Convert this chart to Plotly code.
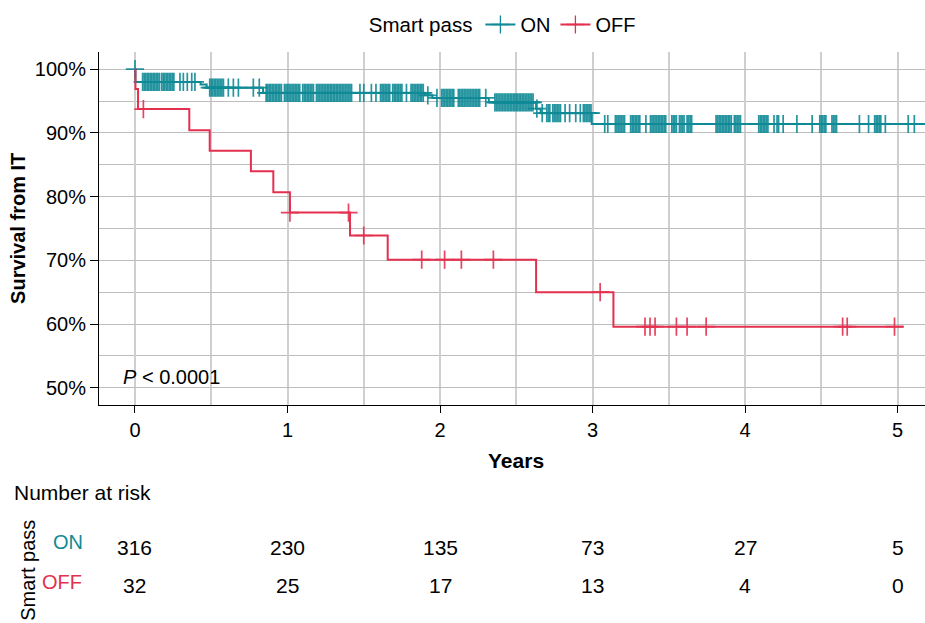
import numpy as np
import plotly.graph_objects as go

# ---------------- data ----------------
groups = ["ON", "OFF"]
legend_title = "Smart pass"

# step-function (Kaplan-Meier) change points: time (years) and survival (%)
on_times = [0.0, 0.003, 0.43, 0.47, 0.84, 1.90, 1.95, 2.32, 2.63, 2.66, 2.995]
on_surv = [100.0, 98.0, 97.6, 97.1, 96.3, 95.9, 95.5, 94.8, 93.8, 93.1, 91.4]
on_end = 5.25

off_times = [0.0, 0.003, 0.02, 0.356, 0.49, 0.76, 0.907, 1.016, 1.41, 1.657, 2.63, 3.137]
off_surv = [100.0, 96.9, 93.75, 90.4, 87.2, 84.0, 80.7, 77.5, 73.9, 70.1, 65.0, 59.6]
off_end = 5.04

# censoring times (years)
on_censor = [
    0.0,
    0.05, 0.06, 0.07, 0.08, 0.09, 0.10, 0.11, 0.12, 0.13, 0.14, 0.15, 0.16,
    0.175, 0.185, 0.195, 0.205, 0.215, 0.225, 0.235, 0.245, 0.255,
    0.295, 0.317, 0.343, 0.372, 0.393,
    0.49, 0.50, 0.51, 0.52, 0.53, 0.54, 0.55, 0.56, 0.57, 0.58,
    0.612, 0.645, 0.678, 0.776, 0.815,
    0.86, 0.87, 0.88, 0.89, 0.90, 0.91, 0.92, 0.93, 0.94, 0.95, 0.96,
    0.98, 0.99, 1.00, 1.01, 1.02, 1.03, 1.04, 1.05, 1.06, 1.07, 1.08,
    1.10, 1.11, 1.12, 1.13, 1.14, 1.15, 1.16, 1.17,
    1.19, 1.20, 1.21, 1.22, 1.23, 1.24, 1.25, 1.26, 1.27, 1.28, 1.29, 1.30,
    1.31, 1.32, 1.33, 1.34, 1.35, 1.36, 1.37, 1.38, 1.39, 1.40, 1.41, 1.42,
    1.475, 1.50, 1.55, 1.58,
    1.61, 1.62, 1.63, 1.64, 1.65, 1.66, 1.67,
    1.69, 1.70, 1.71, 1.72, 1.73, 1.74, 1.75,
    1.78,
    1.81, 1.82, 1.83, 1.84, 1.85, 1.86, 1.87, 1.88, 1.89,
    1.92, 1.98,
    2.01, 2.02, 2.03, 2.04, 2.05, 2.06, 2.07, 2.08, 2.09,
    2.12, 2.13, 2.14, 2.15, 2.16,
    2.17, 2.18, 2.19, 2.20, 2.21, 2.22, 2.23, 2.24, 2.25, 2.26,
    2.30,
    2.36, 2.37, 2.38, 2.39, 2.40, 2.41, 2.42, 2.43, 2.44, 2.45, 2.46, 2.47,
    2.48, 2.49, 2.50, 2.51, 2.52, 2.53, 2.54, 2.55, 2.56, 2.57, 2.58, 2.59,
    2.60, 2.61, 2.635,
    2.67, 2.70, 2.71, 2.72, 2.74, 2.75, 2.76, 2.77, 2.78, 2.79,
    2.82, 2.85, 2.89, 2.92,
    2.94, 2.95, 2.96, 2.97, 2.98, 2.99,
    3.08, 3.10,
    3.15, 3.16, 3.17, 3.18, 3.19, 3.20, 3.21,
    3.25, 3.26, 3.27, 3.28, 3.29, 3.30, 3.31,
    3.35,
    3.38, 3.39, 3.40, 3.41, 3.42, 3.43, 3.44, 3.45, 3.46, 3.47, 3.48,
    3.52, 3.53, 3.54, 3.55, 3.57, 3.58, 3.59, 3.60, 3.62, 3.63, 3.64, 3.65,
    3.81, 3.82, 3.83, 3.84, 3.85, 3.86, 3.87, 3.88, 3.89, 3.90, 3.91,
    3.93, 3.94, 3.95, 3.96, 3.97,
    4.09, 4.10, 4.11, 4.12, 4.13, 4.14, 4.15,
    4.19, 4.21, 4.22, 4.25, 4.34, 4.44,
    4.49, 4.50, 4.51, 4.52, 4.53,
    4.57, 4.58, 4.59, 4.60,
    4.75, 4.81,
    4.85, 4.86, 4.87, 4.88, 4.89,
    4.92, 5.07, 5.11,
]
off_censor = [0.055, 1.016, 1.40, 1.50, 1.88, 2.03, 2.14, 2.35, 3.05,
              3.344, 3.377, 3.41, 3.55, 3.62, 3.745, 4.64, 4.67, 4.98]

# number at risk table
risk_times = [0, 1, 2, 3, 4, 5]
on_risk = [316, 230, 135, 73, 27, 5]
off_risk = [32, 25, 17, 13, 4, 0]

x_ticks = [0, 1, 2, 3, 4, 5]
y_ticks = [50, 60, 70, 80, 90, 100]
y_ticktext = ["50%", "60%", "70%", "80%", "90%", "100%"]

# ---------------- styles ----------------
ON_COLOR = "#0F8A96"
OFF_COLOR = "#E4304F"
FONT = "Liberation Sans, Arial, sans-serif"
FS = 20


def surv_at(times, surv, t):
    idx = np.searchsorted(np.asarray(times), np.asarray(t), side="right") - 1
    return np.asarray(surv)[idx]


fig = go.Figure()

series = [
    ("ON", on_times, on_surv, on_end, on_censor, ON_COLOR),
    ("OFF", off_times, off_surv, off_end, off_censor, OFF_COLOR),
]

for name, tt, ss, tend, cens, col in series:
    fig.add_trace(go.Scatter(
        x=list(tt) + [tend], y=list(ss) + [ss[-1]],
        mode="lines", line=dict(color=col, width=2, shape="hv"),
        showlegend=False, hoverinfo="skip"))
    fig.add_trace(go.Scatter(
        x=cens, y=surv_at(tt, ss, cens),
        mode="markers",
        marker=dict(symbol="cross-thin", size=13, opacity=0.9,
                    line=dict(color=col, width=1.7)),
        showlegend=False, hoverinfo="skip"))

for name, tt, ss, tend, cens, col in series:
    fig.add_trace(go.Scatter(
        x=[None], y=[None], name=name, mode="lines+markers",
        line=dict(color=col, width=2),
        marker=dict(symbol="cross-thin", size=13,
                    line=dict(color=col, width=1.3))))

# ---------------- layout ----------------
fig.update_layout(
    template="none",
    width=925, height=623,
    margin=dict(l=99, r=0, t=52, b=218, autoexpand=False),
    paper_bgcolor="white", plot_bgcolor="white",
    font=dict(family=FONT, size=FS, color="black"),
    showlegend=True,
    legend=dict(orientation="h", x=0.49, xanchor="center",
                y=0.992, yref="container", yanchor="top",
                title=dict(text=legend_title, side="left",
                           font=dict(size=20.5)),
                font=dict(size=20), itemwidth=30,
                bgcolor="rgba(0,0,0,0)"),
)

fig.update_xaxes(
    range=[-0.236, 5.18], tickvals=x_ticks, ticks="outside", ticklen=7,
    tickcolor="black", showline=True, linecolor="black", linewidth=1,
    showgrid=True, gridcolor="#CFCFCF", gridwidth=1.5,
    minor=dict(dtick=0.5, showgrid=True, gridcolor="#CFCFCF", gridwidth=1.5),
    zeroline=False, tickfont=dict(size=FS), automargin=False,
)
fig.update_yaxes(
    range=[47.3, 102.7], tickvals=y_ticks, ticktext=y_ticktext,
    ticks="outside", ticklen=8, tickcolor="black", showline=True,
    linecolor="black", linewidth=1, showgrid=True, gridcolor="#BDBDBD",
    gridwidth=1,
    minor=dict(dtick=5, showgrid=True, gridcolor="#BDBDBD", gridwidth=1),
    zeroline=False, tickfont=dict(size=FS), automargin=False,
)


def note(text, x, y, xref="paper", yref="paper", xanchor="center",
         size=FS, color="black", angle=0):
    return dict(text=text, x=x, y=y, xref=xref, yref=yref, xanchor=xanchor,
                yanchor="middle", textangle=angle, showarrow=False,
                font=dict(size=size, color=color))


ann = [
    note("<b>Survival from IT</b>", -0.098, 0.499, size=20, angle=-90),
    note("<b>Years</b>", 0.505, -0.156, size=21),
    note("<i>P</i> &lt; 0.0001", -0.095, 51.7, xref="x", yref="y",
         xanchor="left"),
    note("Number at risk", -0.1053, -0.249, xanchor="left", size=21),
    note(legend_title, -0.086, -0.467, angle=-90),
    note("ON", -0.0375, -0.388, color=ON_COLOR),
    note("OFF", -0.0448, -0.501, color=OFF_COLOR),
]
for t, n in zip(risk_times, on_risk):
    ann.append(note(str(n), t, -0.405, xref="x", size=21))
for t, n in zip(risk_times, off_risk):
    ann.append(note(str(n), t, -0.510, xref="x", size=21))
fig.update_layout(annotations=ann)

fig.write_html(
    "out.html",
    config={"displayModeBar": False},
    post_script="document.body.style.margin='0';"
                "document.body.style.overflow='hidden';",
)
